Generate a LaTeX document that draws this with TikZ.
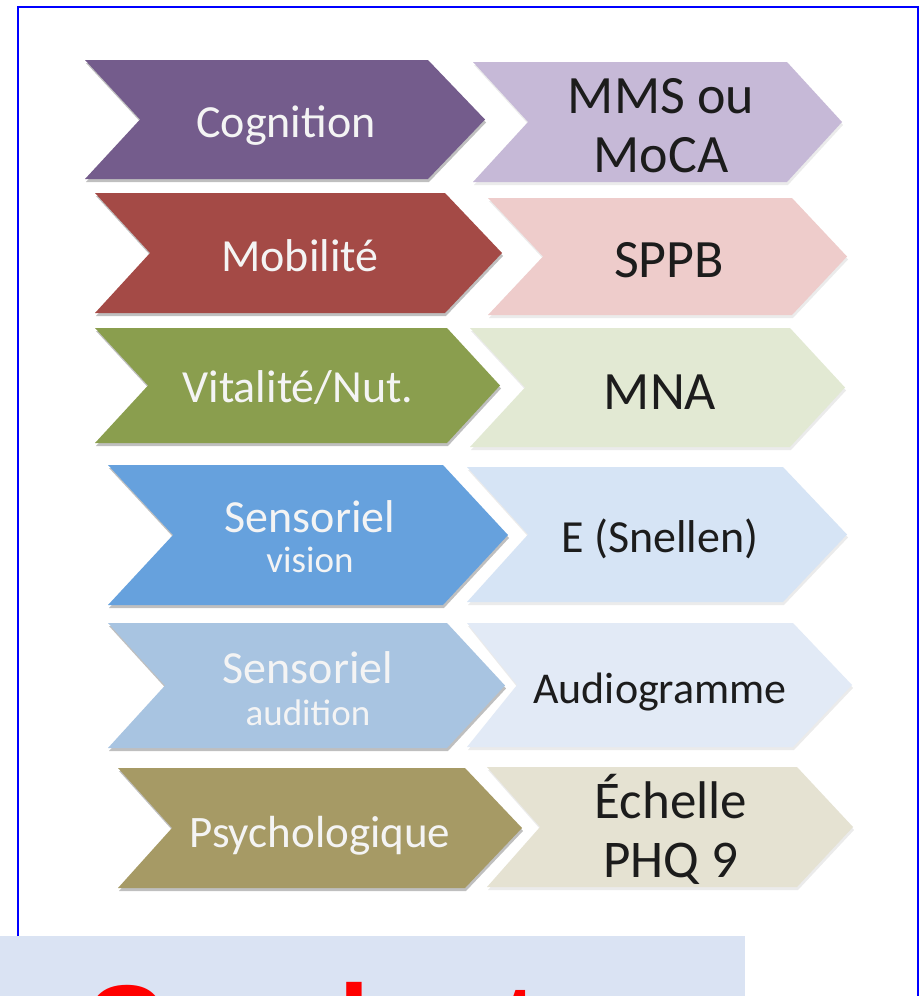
\documentclass[tikz,border=0pt]{standalone}
\usepackage{fontspec}
\setmainfont{Carlito}
\newfontfamily\titlefont{Liberation Sans}
\definecolor{cogL}{HTML}{745C8C}
\definecolor{cogR}{HTML}{C6B9D7}
\definecolor{mobL}{HTML}{A44A46}
\definecolor{mobR}{HTML}{EECCCB}
\definecolor{vitL}{HTML}{8A9E4E}
\definecolor{vitR}{HTML}{E2E9D3}
\definecolor{visL}{HTML}{66A1DD}
\definecolor{visR}{HTML}{D6E4F5}
\definecolor{audL}{HTML}{A8C4E1}
\definecolor{audR}{HTML}{E2EAF6}
\definecolor{psyL}{HTML}{A69A65}
\definecolor{psyR}{HTML}{E5E2D2}
\definecolor{bandcol}{HTML}{DAE3F3}
\definecolor{lighttxt}{HTML}{F4F4F4}
\definecolor{darktxt}{HTML}{1C1C1C}
\newcommand\mychev[8]{%
  \fill[black,opacity=#8] (#1+1,#5+3) -- (#3+1,#5+3) -- (#4+1,{(#5+#6)/2+3}) -- (#3+1,#6+3) -- (#1+1,#6+3) -- (#2+1,{(#5+#6)/2+3}) -- cycle;
  \fill[#7] (#1,#5) -- (#3,#5) -- (#4,{(#5+#6)/2}) -- (#3,#6) -- (#1,#6) -- (#2,{(#5+#6)/2}) -- cycle;
}
\tikzset{
  lbl/.style={anchor=base, inner sep=0pt, text=lighttxt, font=\fontsize{46}{50}\selectfont},
  sublbl/.style={anchor=base, inner sep=0pt, text=lighttxt, font=\fontsize{37}{40}\selectfont},
  val/.style={anchor=base, inner sep=0pt, text=darktxt, font=\fontsize{54}{58}\selectfont},
}
\begin{document}
\begin{tikzpicture}[x=1pt,y=-1pt]
\useasboundingbox (0,0) rectangle (921,996);
\fill[white] (0,0) rectangle (921,996);
% row 1
\mychev{85}{140}{428}{485}{60}{179}{cogL}{.25}
\mychev{473}{528}{787}{842}{62}{182}{cogR}{.08}
% row 2
\mychev{95}{150}{445}{502}{193}{313}{mobL}{.25}
\mychev{488}{543}{792}{847}{198}{315}{mobR}{.08}
% row 3
\mychev{95}{148}{447}{500}{328}{443}{vitL}{.25}
\mychev{470}{525}{790}{845}{328}{447}{vitR}{.08}
% row 4
\mychev{108}{173}{443}{508}{465}{605}{visL}{.25}
\mychev{467}{528}{783}{847}{467}{602}{visR}{.08}
% row 5
\mychev{108}{165}{447}{505}{623}{748}{audL}{.25}
\mychev{467}{517}{793}{852}{623}{747}{audR}{.08}
% row 6
\mychev{118}{172}{465}{522}{768}{888}{psyL}{.25}
\mychev{487}{540}{797}{853}{767}{887}{psyR}{.08}
% labels
\node[lbl] (cog) at (286,137) {Cognition};
\node[val] (mms1) at (661,113) {MMS ou};
\node[val] (mms2) at (661,172) {MoCA};
\node[lbl] (mob) at (300,271) {Mobilité};
\node[val] (sppb) at (669,277) {SPPB};
\node[lbl] (vit) at (298,402) {Vitalité/Nut.};
\node[val] (mna) at (660,409) {MNA};
\node[lbl] (vis1) at (310,532) {Sensoriel};
\node[sublbl] (vis2) at (310,572) {vision};
\node[val,font=\fontsize{46}{50}\selectfont] (snel) at (660,552) {E (Snellen)};
\node[lbl] (aud1) at (308,683) {Sensoriel};
\node[sublbl] (aud2) at (308,725) {audition};
\node[val,font=\fontsize{44}{48}\selectfont] (audio) at (660,703) {Audiogramme};
\node[lbl,font=\fontsize{45}{50}\selectfont] (psy) at (320,847) {Psychologique};
\node[val,font=\fontsize{53}{58}\selectfont] (ech1) at (671,818) {Échelle};
\node[val,font=\fontsize{53}{58}\selectfont] (ech2) at (671,877) {PHQ 9};
% frame and band
\fill[bandcol] (0,936) rectangle (745,996);
\draw[blue, line width=2.5pt] (18,936) -- (18,7) -- (918,7) -- (918,996);
\begin{scope}
\clip (0,936) rectangle (745,996);
\node[anchor=base west, inner sep=0pt, text=red, font=\titlefont\bfseries\fontsize{112}{120}\selectfont] (title) at (84,1063) {Conduct};
\end{scope}
\end{tikzpicture}
\end{document}
